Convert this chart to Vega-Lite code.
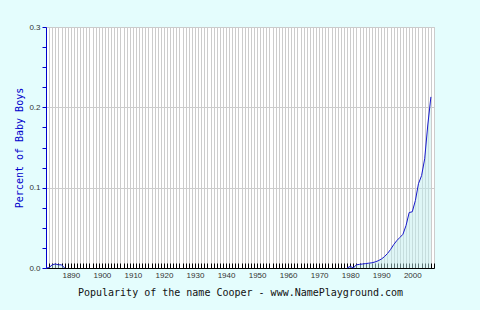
{
  "$schema": "https://vega.github.io/schema/vega-lite/v6.json",
  "width": 388,
  "height": 241,
  "autosize": "none",
  "padding": {"left": 46, "top": 27, "right": 46, "bottom": 42},
  "background": "#e4fdfd",
  "view": {"fill": "white", "stroke": "#cccccc"},
  "config": {"font": "Liberation Sans"},
  "data": {
    "values": [
      {"year": 1882, "pct": 0, "seg": "a"},
      {"year": 1883, "pct": 0.0005, "seg": "a"},
      {"year": 1884, "pct": 0.004, "seg": "a"},
      {"year": 1885, "pct": 0.005, "seg": "a"},
      {"year": 1886, "pct": 0.004, "seg": "a"},
      {"year": 1887, "pct": 0.004, "seg": "a"},
      {"year": 1888, "pct": 0, "seg": "a"},
      {"year": 1979, "pct": 0, "seg": "b"},
      {"year": 1980, "pct": 0.002, "seg": "b"},
      {"year": 1981, "pct": 0, "seg": "b"},
      {"year": 1982, "pct": 0.004, "seg": "b"},
      {"year": 1983, "pct": 0.0045, "seg": "b"},
      {"year": 1984, "pct": 0.005, "seg": "b"},
      {"year": 1985, "pct": 0.0055, "seg": "b"},
      {"year": 1986, "pct": 0.006, "seg": "b"},
      {"year": 1987, "pct": 0.0065, "seg": "b"},
      {"year": 1988, "pct": 0.0075, "seg": "b"},
      {"year": 1989, "pct": 0.009, "seg": "b"},
      {"year": 1990, "pct": 0.011, "seg": "b"},
      {"year": 1991, "pct": 0.014, "seg": "b"},
      {"year": 1992, "pct": 0.018, "seg": "b"},
      {"year": 1993, "pct": 0.023, "seg": "b"},
      {"year": 1994, "pct": 0.029, "seg": "b"},
      {"year": 1995, "pct": 0.034, "seg": "b"},
      {"year": 1996, "pct": 0.038, "seg": "b"},
      {"year": 1997, "pct": 0.042, "seg": "b"},
      {"year": 1998, "pct": 0.053, "seg": "b"},
      {"year": 1999, "pct": 0.069, "seg": "b"},
      {"year": 2000, "pct": 0.07, "seg": "b"},
      {"year": 2001, "pct": 0.084, "seg": "b"},
      {"year": 2002, "pct": 0.105, "seg": "b"},
      {"year": 2003, "pct": 0.115, "seg": "b"},
      {"year": 2004, "pct": 0.136, "seg": "b"},
      {"year": 2005, "pct": 0.178, "seg": "b"},
      {"year": 2006, "pct": 0.213, "seg": "b"}
    ]
  },
  "encoding": {
    "x": {
      "field": "year",
      "type": "quantitative",
      "scale": {"domain": [1882, 2007], "nice": false, "zero": false},
      "axis": {
        "tickCount": 125,
        "format": "d",
        "labelExpr": "datum.value % 10 == 0 ? datum.label : ''",
        "labelOverlap": false,
        "labelFlush": false,
        "grid": true,
        "gridColor": "#cccccc",
        "gridWidth": 1,
        "tickColor": "#000000",
        "tickSize": -5,
        "domainColor": "#000000",
        "labelFontSize": 8,
        "labelColor": "#333333",
        "labelPadding": 8,
        "title": "Popularity of the name Cooper - www.NamePlayground.com",
        "titleFont": "DejaVu Sans Mono",
        "titleFontSize": 10,
        "titleFontWeight": "normal",
        "titleColor": "#111111",
        "titlePadding": 8
      }
    },
    "y": {
      "field": "pct",
      "type": "quantitative",
      "scale": {"domain": [0, 0.3], "nice": false},
      "axis": {
        "values": [0, 0.025, 0.05, 0.075, 0.1, 0.125, 0.15, 0.175, 0.2, 0.225, 0.25, 0.275, 0.3],
        "labelExpr": "abs(round(datum.value * 40)) % 4 == 0 ? format(datum.value, '.1f') : ''",
        "labelOverlap": false,
        "labelFlush": false,
        "grid": true,
        "gridColor": "#cccccc",
        "gridOpacity": {"condition": {"test": "abs(round(datum.value * 40)) % 4 == 0", "value": 1}, "value": 0},
        "domainColor": "#0000cc",
        "tickColor": "#0000cc",
        "tickSize": 4,
        "labelPadding": 2,
        "labelFontSize": 8,
        "labelColor": "#333333",
        "title": "Percent of Baby Boys",
        "titleColor": "#0000cc",
        "titleFont": "DejaVu Sans Mono",
        "titleFontSize": 10,
        "titleFontWeight": "normal",
        "titlePadding": 4
      }
    },
    "detail": {"field": "seg", "type": "nominal"}
  },
  "layer": [
    {"mark": {"type": "area", "color": "#bfeeee", "opacity": 0.5}},
    {"mark": {"type": "line", "color": "#1a1acc", "strokeWidth": 1}}
  ]
}
